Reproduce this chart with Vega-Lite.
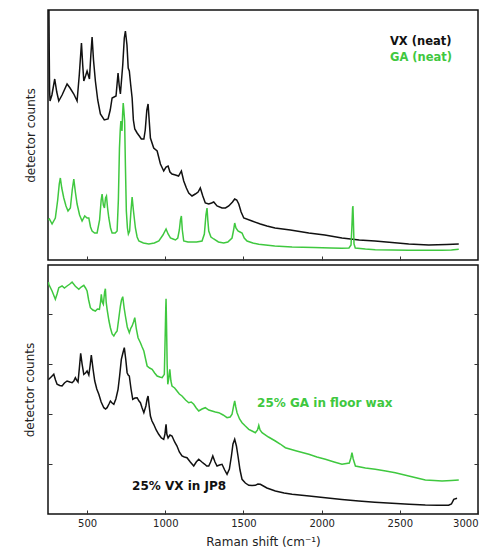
{
  "$schema": "https://vega.github.io/schema/vega-lite/v6.json",
  "padding": {"left": 22, "top": 9, "right": 10, "bottom": 5},
  "spacing": 2,
  "config": {
    "view": {"stroke": "#111111", "strokeWidth": 1.5},
    "font": "DejaVu Sans",
    "axis": {"domain": false, "grid": false, "labelFont": "DejaVu Sans", "labelFontSize": 10, "labelColor": "#222222", "titleFont": "DejaVu Sans", "titleFontSize": 12, "titleFontWeight": "normal", "titleColor": "#222222", "tickColor": "#333333", "tickSize": -4, "tickWidth": 1}
  },
  "resolve": {"scale": {"y": "independent"}, "axis": {"y": "independent"}},
  "datasets": {
    "top": [
      {"s":"VX","x":256,"y":250},{"s":"VX","x":258,"y":205},{"s":"VX","x":260,"y":170},{"s":"VX","x":263,"y":159},{"s":"VX","x":275,"y":165},{"s":"VX","x":293,"y":181},{"s":"VX","x":306,"y":168},{"s":"VX","x":319,"y":159},{"s":"VX","x":340,"y":165},{"s":"VX","x":372,"y":176},{"s":"VX","x":391,"y":172},{"s":"VX","x":415,"y":166},{"s":"VX","x":436,"y":159},{"s":"VX","x":450,"y":185},{"s":"VX","x":464,"y":217},{"s":"VX","x":472,"y":195},{"s":"VX","x":479,"y":179},{"s":"VX","x":490,"y":184},{"s":"VX","x":500,"y":189},{"s":"VX","x":515,"y":181},{"s":"VX","x":524,"y":205},{"s":"VX","x":532,"y":223},{"s":"VX","x":541,"y":200},{"s":"VX","x":553,"y":179},{"s":"VX","x":568,"y":160},{"s":"VX","x":585,"y":146},{"s":"VX","x":610,"y":140},{"s":"VX","x":634,"y":141},{"s":"VX","x":648,"y":150},{"s":"VX","x":660,"y":162},{"s":"VX","x":685,"y":164},{"s":"VX","x":698,"y":187},{"s":"VX","x":705,"y":175},{"s":"VX","x":713,"y":166},{"s":"VX","x":728,"y":195},{"s":"VX","x":738,"y":222},{"s":"VX","x":745,"y":229},{"s":"VX","x":755,"y":215},{"s":"VX","x":763,"y":192},{"s":"VX","x":770,"y":189},{"s":"VX","x":779,"y":175},{"s":"VX","x":788,"y":162},{"s":"VX","x":796,"y":140},{"s":"VX","x":805,"y":131},{"s":"VX","x":820,"y":127},{"s":"VX","x":834,"y":124},{"s":"VX","x":847,"y":121},{"s":"VX","x":863,"y":121},{"s":"VX","x":872,"y":130},{"s":"VX","x":882,"y":150},{"s":"VX","x":890,"y":156},{"s":"VX","x":897,"y":140},{"s":"VX","x":905,"y":122},{"s":"VX","x":926,"y":112},{"s":"VX","x":948,"y":109},{"s":"VX","x":969,"y":96},{"s":"VX","x":990,"y":89},{"s":"VX","x":1005,"y":93},{"s":"VX","x":1018,"y":94},{"s":"VX","x":1030,"y":88},{"s":"VX","x":1043,"y":86},{"s":"VX","x":1065,"y":85},{"s":"VX","x":1085,"y":84},{"s":"VX","x":1103,"y":89},{"s":"VX","x":1118,"y":79},{"s":"VX","x":1135,"y":72},{"s":"VX","x":1150,"y":67},{"s":"VX","x":1171,"y":64},{"s":"VX","x":1192,"y":66},{"s":"VX","x":1210,"y":68},{"s":"VX","x":1224,"y":72},{"s":"VX","x":1240,"y":64},{"s":"VX","x":1256,"y":57},{"s":"VX","x":1278,"y":56},{"s":"VX","x":1296,"y":57},{"s":"VX","x":1310,"y":58},{"s":"VX","x":1331,"y":54},{"s":"VX","x":1363,"y":52},{"s":"VX","x":1385,"y":52},{"s":"VX","x":1406,"y":54},{"s":"VX","x":1430,"y":58},{"s":"VX","x":1444,"y":61},{"s":"VX","x":1457,"y":60},{"s":"VX","x":1470,"y":56},{"s":"VX","x":1485,"y":48},{"s":"VX","x":1502,"y":42},{"s":"VX","x":1555,"y":39},{"s":"VX","x":1608,"y":36},{"s":"VX","x":1650,"y":34},{"s":"VX","x":1702,"y":32},{"s":"VX","x":1800,"y":30},{"s":"VX","x":1918,"y":27},{"s":"VX","x":2020,"y":25},{"s":"VX","x":2130,"y":22},{"s":"VX","x":2240,"y":20},{"s":"VX","x":2341,"y":19},{"s":"VX","x":2450,"y":17.5},{"s":"VX","x":2557,"y":16},{"s":"VX","x":2685,"y":15},{"s":"VX","x":2800,"y":15.5},{"s":"VX","x":2877,"y":16},
      {"s":"GA","x":252,"y":40},{"s":"GA","x":259,"y":41},{"s":"GA","x":276,"y":36},{"s":"GA","x":297,"y":42},{"s":"GA","x":312,"y":60},{"s":"GA","x":322,"y":76},{"s":"GA","x":329,"y":82},{"s":"GA","x":338,"y":72},{"s":"GA","x":351,"y":62},{"s":"GA","x":365,"y":54},{"s":"GA","x":378,"y":49},{"s":"GA","x":393,"y":52},{"s":"GA","x":405,"y":70},{"s":"GA","x":415,"y":81},{"s":"GA","x":425,"y":68},{"s":"GA","x":436,"y":56},{"s":"GA","x":452,"y":45},{"s":"GA","x":468,"y":39},{"s":"GA","x":485,"y":44},{"s":"GA","x":500,"y":42},{"s":"GA","x":511,"y":42},{"s":"GA","x":522,"y":33},{"s":"GA","x":532,"y":29},{"s":"GA","x":548,"y":27},{"s":"GA","x":564,"y":27},{"s":"GA","x":580,"y":40},{"s":"GA","x":590,"y":60},{"s":"GA","x":596,"y":66},{"s":"GA","x":604,"y":55},{"s":"GA","x":611,"y":52},{"s":"GA","x":618,"y":62},{"s":"GA","x":624,"y":64},{"s":"GA","x":631,"y":52},{"s":"GA","x":639,"y":42},{"s":"GA","x":650,"y":32},{"s":"GA","x":660,"y":27},{"s":"GA","x":680,"y":27},{"s":"GA","x":692,"y":29},{"s":"GA","x":700,"y":60},{"s":"GA","x":707,"y":112},{"s":"GA","x":712,"y":130},{"s":"GA","x":716,"y":139},{"s":"GA","x":723,"y":129},{"s":"GA","x":727,"y":145},{"s":"GA","x":731,"y":157},{"s":"GA","x":735,"y":150},{"s":"GA","x":740,"y":139},{"s":"GA","x":745,"y":95},{"s":"GA","x":751,"y":49},{"s":"GA","x":758,"y":32},{"s":"GA","x":764,"y":26},{"s":"GA","x":772,"y":29},{"s":"GA","x":780,"y":48},{"s":"GA","x":788,"y":63},{"s":"GA","x":796,"y":50},{"s":"GA","x":809,"y":32},{"s":"GA","x":820,"y":23},{"s":"GA","x":831,"y":19},{"s":"GA","x":860,"y":17},{"s":"GA","x":895,"y":16},{"s":"GA","x":930,"y":17},{"s":"GA","x":959,"y":19},{"s":"GA","x":985,"y":25},{"s":"GA","x":1005,"y":31},{"s":"GA","x":1018,"y":26},{"s":"GA","x":1033,"y":22},{"s":"GA","x":1050,"y":21},{"s":"GA","x":1065,"y":20},{"s":"GA","x":1080,"y":22},{"s":"GA","x":1090,"y":30},{"s":"GA","x":1097,"y":40},{"s":"GA","x":1103,"y":44},{"s":"GA","x":1109,"y":30},{"s":"GA","x":1118,"y":19},{"s":"GA","x":1145,"y":18},{"s":"GA","x":1171,"y":18},{"s":"GA","x":1200,"y":18},{"s":"GA","x":1235,"y":19},{"s":"GA","x":1250,"y":26},{"s":"GA","x":1260,"y":45},{"s":"GA","x":1267,"y":52},{"s":"GA","x":1272,"y":40},{"s":"GA","x":1278,"y":29},{"s":"GA","x":1292,"y":23},{"s":"GA","x":1310,"y":21},{"s":"GA","x":1340,"y":18},{"s":"GA","x":1374,"y":17},{"s":"GA","x":1400,"y":18},{"s":"GA","x":1427,"y":22},{"s":"GA","x":1437,"y":30},{"s":"GA","x":1444,"y":37},{"s":"GA","x":1452,"y":32},{"s":"GA","x":1465,"y":29},{"s":"GA","x":1478,"y":28},{"s":"GA","x":1491,"y":27},{"s":"GA","x":1505,"y":22},{"s":"GA","x":1523,"y":19},{"s":"GA","x":1560,"y":17},{"s":"GA","x":1598,"y":15.7},{"s":"GA","x":1700,"y":14},{"s":"GA","x":1811,"y":13},{"s":"GA","x":1950,"y":12.5},{"s":"GA","x":2060,"y":12},{"s":"GA","x":2130,"y":11.7},{"s":"GA","x":2175,"y":12},{"s":"GA","x":2188,"y":15},{"s":"GA","x":2194,"y":35},{"s":"GA","x":2198,"y":52},{"s":"GA","x":2200,"y":54},{"s":"GA","x":2203,"y":40},{"s":"GA","x":2207,"y":16},{"s":"GA","x":2215,"y":12},{"s":"GA","x":2280,"y":11},{"s":"GA","x":2343,"y":10.3},{"s":"GA","x":2450,"y":10},{"s":"GA","x":2557,"y":9.7},{"s":"GA","x":2660,"y":9.7},{"s":"GA","x":2770,"y":9.7},{"s":"GA","x":2830,"y":10},{"s":"GA","x":2877,"y":10.7}
    ],
    "bottom": [
      {"s":"GA","x":253,"y":232},{"s":"GA","x":255,"y":229.7},{"s":"GA","x":276,"y":223},{"s":"GA","x":297,"y":214.7},{"s":"GA","x":308,"y":220},{"s":"GA","x":319,"y":226.3},{"s":"GA","x":340,"y":228},{"s":"GA","x":355,"y":226},{"s":"GA","x":372,"y":228},{"s":"GA","x":390,"y":230},{"s":"GA","x":404,"y":232},{"s":"GA","x":425,"y":227.7},{"s":"GA","x":447,"y":224.7},{"s":"GA","x":462,"y":227},{"s":"GA","x":479,"y":228.7},{"s":"GA","x":490,"y":226},{"s":"GA","x":500,"y":223},{"s":"GA","x":510,"y":214},{"s":"GA","x":521,"y":206.3},{"s":"GA","x":537,"y":204},{"s":"GA","x":553,"y":203},{"s":"GA","x":566,"y":205},{"s":"GA","x":579,"y":204.7},{"s":"GA","x":586,"y":212},{"s":"GA","x":591,"y":219.7},{"s":"GA","x":597,"y":212},{"s":"GA","x":604,"y":209.7},{"s":"GA","x":612,"y":222},{"s":"GA","x":617,"y":225.3},{"s":"GA","x":622,"y":212},{"s":"GA","x":628,"y":204.7},{"s":"GA","x":640,"y":193},{"s":"GA","x":649,"y":186.3},{"s":"GA","x":660,"y":180},{"s":"GA","x":671,"y":178},{"s":"GA","x":682,"y":181},{"s":"GA","x":692,"y":183},{"s":"GA","x":703,"y":196},{"s":"GA","x":713,"y":208},{"s":"GA","x":720,"y":214},{"s":"GA","x":728,"y":217.3},{"s":"GA","x":737,"y":206},{"s":"GA","x":745,"y":198},{"s":"GA","x":757,"y":187},{"s":"GA","x":770,"y":181.3},{"s":"GA","x":780,"y":186},{"s":"GA","x":788,"y":188},{"s":"GA","x":797,"y":192},{"s":"GA","x":805,"y":196.3},{"s":"GA","x":815,"y":185},{"s":"GA","x":826,"y":176.3},{"s":"GA","x":841,"y":171.3},{"s":"GA","x":852,"y":167},{"s":"GA","x":863,"y":163},{"s":"GA","x":874,"y":155},{"s":"GA","x":884,"y":148},{"s":"GA","x":900,"y":146},{"s":"GA","x":916,"y":144.7},{"s":"GA","x":932,"y":141},{"s":"GA","x":948,"y":138},{"s":"GA","x":965,"y":137},{"s":"GA","x":980,"y":136.3},{"s":"GA","x":994,"y":139.7},{"s":"GA","x":999,"y":175},{"s":"GA","x":1003,"y":205},{"s":"GA","x":1005,"y":215.3},{"s":"GA","x":1008,"y":190},{"s":"GA","x":1012,"y":150},{"s":"GA","x":1016,"y":129.7},{"s":"GA","x":1022,"y":135},{"s":"GA","x":1029,"y":144.7},{"s":"GA","x":1036,"y":133},{"s":"GA","x":1043,"y":128},{"s":"GA","x":1060,"y":126},{"s":"GA","x":1075,"y":123},{"s":"GA","x":1090,"y":120},{"s":"GA","x":1107,"y":118},{"s":"GA","x":1130,"y":114},{"s":"GA","x":1150,"y":111.3},{"s":"GA","x":1166,"y":112},{"s":"GA","x":1182,"y":109.7},{"s":"GA","x":1198,"y":106},{"s":"GA","x":1214,"y":103},{"s":"GA","x":1235,"y":105},{"s":"GA","x":1256,"y":106.3},{"s":"GA","x":1278,"y":104},{"s":"GA","x":1299,"y":103},{"s":"GA","x":1320,"y":102},{"s":"GA","x":1342,"y":101.3},{"s":"GA","x":1370,"y":99},{"s":"GA","x":1395,"y":96.3},{"s":"GA","x":1415,"y":97},{"s":"GA","x":1427,"y":99.7},{"s":"GA","x":1437,"y":108},{"s":"GA","x":1444,"y":113},{"s":"GA","x":1451,"y":107},{"s":"GA","x":1459,"y":101.3},{"s":"GA","x":1475,"y":95},{"s":"GA","x":1491,"y":91.3},{"s":"GA","x":1512,"y":88},{"s":"GA","x":1534,"y":84.7},{"s":"GA","x":1555,"y":83},{"s":"GA","x":1576,"y":81.3},{"s":"GA","x":1590,"y":84},{"s":"GA","x":1598,"y":88.7},{"s":"GA","x":1606,"y":84},{"s":"GA","x":1619,"y":81.3},{"s":"GA","x":1660,"y":77},{"s":"GA","x":1704,"y":73},{"s":"GA","x":1735,"y":70},{"s":"GA","x":1768,"y":66.3},{"s":"GA","x":1840,"y":63},{"s":"GA","x":1918,"y":59.7},{"s":"GA","x":1970,"y":57},{"s":"GA","x":2024,"y":54.7},{"s":"GA","x":2080,"y":52},{"s":"GA","x":2130,"y":49.7},{"s":"GA","x":2177,"y":51},{"s":"GA","x":2187,"y":56},{"s":"GA","x":2194,"y":61.3},{"s":"GA","x":2202,"y":55},{"s":"GA","x":2216,"y":48},{"s":"GA","x":2280,"y":46},{"s":"GA","x":2343,"y":44.7},{"s":"GA","x":2410,"y":43},{"s":"GA","x":2471,"y":41.3},{"s":"GA","x":2557,"y":38},{"s":"GA","x":2610,"y":36},{"s":"GA","x":2663,"y":34},{"s":"GA","x":2720,"y":33.5},{"s":"GA","x":2770,"y":33},{"s":"GA","x":2830,"y":33.5},{"s":"GA","x":2877,"y":34},
      {"s":"VX","x":253,"y":135},{"s":"VX","x":255,"y":134.7},{"s":"VX","x":270,"y":137},{"s":"VX","x":287,"y":139.7},{"s":"VX","x":298,"y":134},{"s":"VX","x":308,"y":129.7},{"s":"VX","x":325,"y":128.5},{"s":"VX","x":340,"y":128},{"s":"VX","x":355,"y":131},{"s":"VX","x":372,"y":133},{"s":"VX","x":390,"y":132},{"s":"VX","x":404,"y":131.3},{"s":"VX","x":415,"y":133},{"s":"VX","x":425,"y":136.3},{"s":"VX","x":433,"y":134},{"s":"VX","x":442,"y":132},{"s":"VX","x":450,"y":145},{"s":"VX","x":459,"y":160.7},{"s":"VX","x":468,"y":150},{"s":"VX","x":479,"y":139.7},{"s":"VX","x":490,"y":141},{"s":"VX","x":500,"y":143},{"s":"VX","x":511,"y":139},{"s":"VX","x":519,"y":148},{"s":"VX","x":527,"y":159},{"s":"VX","x":538,"y":145},{"s":"VX","x":549,"y":133},{"s":"VX","x":562,"y":125},{"s":"VX","x":575,"y":119.7},{"s":"VX","x":590,"y":112},{"s":"VX","x":607,"y":106.3},{"s":"VX","x":618,"y":105},{"s":"VX","x":628,"y":106.3},{"s":"VX","x":640,"y":110},{"s":"VX","x":649,"y":113},{"s":"VX","x":660,"y":111},{"s":"VX","x":671,"y":109.7},{"s":"VX","x":684,"y":115},{"s":"VX","x":698,"y":124.7},{"s":"VX","x":708,"y":138},{"s":"VX","x":719,"y":154.7},{"s":"VX","x":729,"y":161},{"s":"VX","x":738,"y":166.3},{"s":"VX","x":747,"y":155},{"s":"VX","x":756,"y":141.3},{"s":"VX","x":763,"y":139},{"s":"VX","x":770,"y":138},{"s":"VX","x":781,"y":125},{"s":"VX","x":792,"y":114.7},{"s":"VX","x":806,"y":116},{"s":"VX","x":820,"y":116.3},{"s":"VX","x":832,"y":113},{"s":"VX","x":841,"y":111.3},{"s":"VX","x":852,"y":106},{"s":"VX","x":863,"y":101.3},{"s":"VX","x":876,"y":108},{"s":"VX","x":884,"y":115},{"s":"VX","x":890,"y":118},{"s":"VX","x":897,"y":108},{"s":"VX","x":905,"y":98},{"s":"VX","x":915,"y":93},{"s":"VX","x":926,"y":89.7},{"s":"VX","x":942,"y":84},{"s":"VX","x":958,"y":79.7},{"s":"VX","x":975,"y":76},{"s":"VX","x":990,"y":74.7},{"s":"VX","x":998,"y":80},{"s":"VX","x":1002,"y":86},{"s":"VX","x":1005,"y":89.7},{"s":"VX","x":1010,"y":80},{"s":"VX","x":1018,"y":76},{"s":"VX","x":1030,"y":79},{"s":"VX","x":1043,"y":78},{"s":"VX","x":1060,"y":72},{"s":"VX","x":1075,"y":68},{"s":"VX","x":1090,"y":62},{"s":"VX","x":1107,"y":58},{"s":"VX","x":1122,"y":57},{"s":"VX","x":1139,"y":56.3},{"s":"VX","x":1160,"y":52},{"s":"VX","x":1182,"y":48},{"s":"VX","x":1198,"y":52},{"s":"VX","x":1214,"y":54.7},{"s":"VX","x":1234,"y":52},{"s":"VX","x":1253,"y":49.7},{"s":"VX","x":1265,"y":48},{"s":"VX","x":1278,"y":48},{"s":"VX","x":1290,"y":52},{"s":"VX","x":1304,"y":58},{"s":"VX","x":1318,"y":52},{"s":"VX","x":1331,"y":48},{"s":"VX","x":1347,"y":49},{"s":"VX","x":1363,"y":49.7},{"s":"VX","x":1380,"y":44},{"s":"VX","x":1395,"y":39.7},{"s":"VX","x":1410,"y":45},{"s":"VX","x":1423,"y":58},{"s":"VX","x":1433,"y":70},{"s":"VX","x":1444,"y":74.7},{"s":"VX","x":1455,"y":68},{"s":"VX","x":1465,"y":58},{"s":"VX","x":1478,"y":44},{"s":"VX","x":1491,"y":34.7},{"s":"VX","x":1512,"y":31},{"s":"VX","x":1534,"y":28.7},{"s":"VX","x":1555,"y":28.5},{"s":"VX","x":1576,"y":28.7},{"s":"VX","x":1592,"y":30},{"s":"VX","x":1608,"y":29.7},{"s":"VX","x":1650,"y":26},{"s":"VX","x":1704,"y":23},{"s":"VX","x":1760,"y":21},{"s":"VX","x":1811,"y":19.7},{"s":"VX","x":1920,"y":18},{"s":"VX","x":2024,"y":16.3},{"s":"VX","x":2130,"y":14.5},{"s":"VX","x":2237,"y":13},{"s":"VX","x":2340,"y":11.8},{"s":"VX","x":2450,"y":10.7},{"s":"VX","x":2560,"y":9.8},{"s":"VX","x":2663,"y":9},{"s":"VX","x":2740,"y":8.8},{"s":"VX","x":2812,"y":8.7},{"s":"VX","x":2830,"y":10},{"s":"VX","x":2845,"y":14.7},{"s":"VX","x":2866,"y":15.7}
    ],
    "toplabels": [
      {"t": "VX (neat)", "s": "VX", "x": 2437, "y": 218.3},
      {"t": "GA (neat)", "s": "GA", "x": 2437, "y": 202.3}
    ],
    "bottomlabels": [
      {"t": "25% GA in floor wax", "s": "GA", "x": 1587, "y": 111.3},
      {"t": "25% VX in JP8", "s": "VX", "x": 788, "y": 28}
    ]
  },
  "vconcat": [
    {
      "width": 430,
      "height": 250,
      "layer": [
        {
          "data": {"name": "top"},
          "mark": {"type": "line", "strokeWidth": 1.5, "clip": true},
          "encoding": {
            "x": {"field": "x", "type": "quantitative", "scale": {"domain": [250, 3000], "nice": false, "zero": false}, "axis": {"values": [500, 1000, 1500, 2000, 2500], "labels": false, "title": null}},
            "y": {"field": "y", "type": "quantitative", "scale": {"domain": [0, 250], "nice": false, "zero": false}, "axis": {"ticks": false, "labels": false, "title": "detector counts", "titlePadding": 11}},
            "color": {"field": "s", "type": "nominal", "scale": {"domain": ["VX", "GA"], "range": ["#111111", "#3fc83f"]}, "legend": null}
          }
        },
        {
          "data": {"name": "toplabels"},
          "mark": {"type": "text", "align": "left", "baseline": "middle", "fontWeight": "bold", "fontSize": 11.5, "font": "DejaVu Sans"},
          "encoding": {
            "x": {"field": "x", "type": "quantitative"},
            "y": {"field": "y", "type": "quantitative"},
            "text": {"field": "t"},
            "color": {"field": "s", "type": "nominal", "scale": {"domain": ["VX", "GA"], "range": ["#111111", "#3fc83f"]}, "legend": null}
          }
        }
      ]
    },
    {
      "width": 430,
      "height": 249,
      "resolve": {"axis": {"y": "independent"}},
      "layer": [
        {
          "data": {"name": "bottom"},
          "mark": {"type": "line", "strokeWidth": 1.5, "clip": true},
          "encoding": {
            "x": {"field": "x", "type": "quantitative", "scale": {"domain": [250, 3000], "nice": false, "zero": false}, "axis": {"values": [500, 1000, 1500, 2000, 2500, 3000], "format": "d", "labelPadding": 8.5, "title": "Raman shift (cm⁻¹)", "titlePadding": 8}},
            "y": {"field": "y", "type": "quantitative", "scale": {"domain": [0, 249], "nice": false, "zero": false}, "axis": {"values": [50, 100, 150, 200], "labels": false, "title": "detector counts", "titlePadding": 11}},
            "color": {"field": "s", "type": "nominal", "scale": {"domain": ["VX", "GA"], "range": ["#111111", "#3fc83f"]}, "legend": null}
          }
        },
        {
          "data": {"name": "bottomlabels"},
          "mark": {"type": "text", "align": "left", "baseline": "middle", "fontWeight": "bold", "fontSize": 12, "font": "DejaVu Sans"},
          "encoding": {
            "x": {"field": "x", "type": "quantitative"},
            "y": {"field": "y", "type": "quantitative", "axis": {"orient": "right", "values": [50, 100, 150, 200], "labels": false, "title": null}},
            "text": {"field": "t"},
            "color": {"field": "s", "type": "nominal", "scale": {"domain": ["VX", "GA"], "range": ["#111111", "#3fc83f"]}, "legend": null}
          }
        }
      ]
    }
  ]
}
